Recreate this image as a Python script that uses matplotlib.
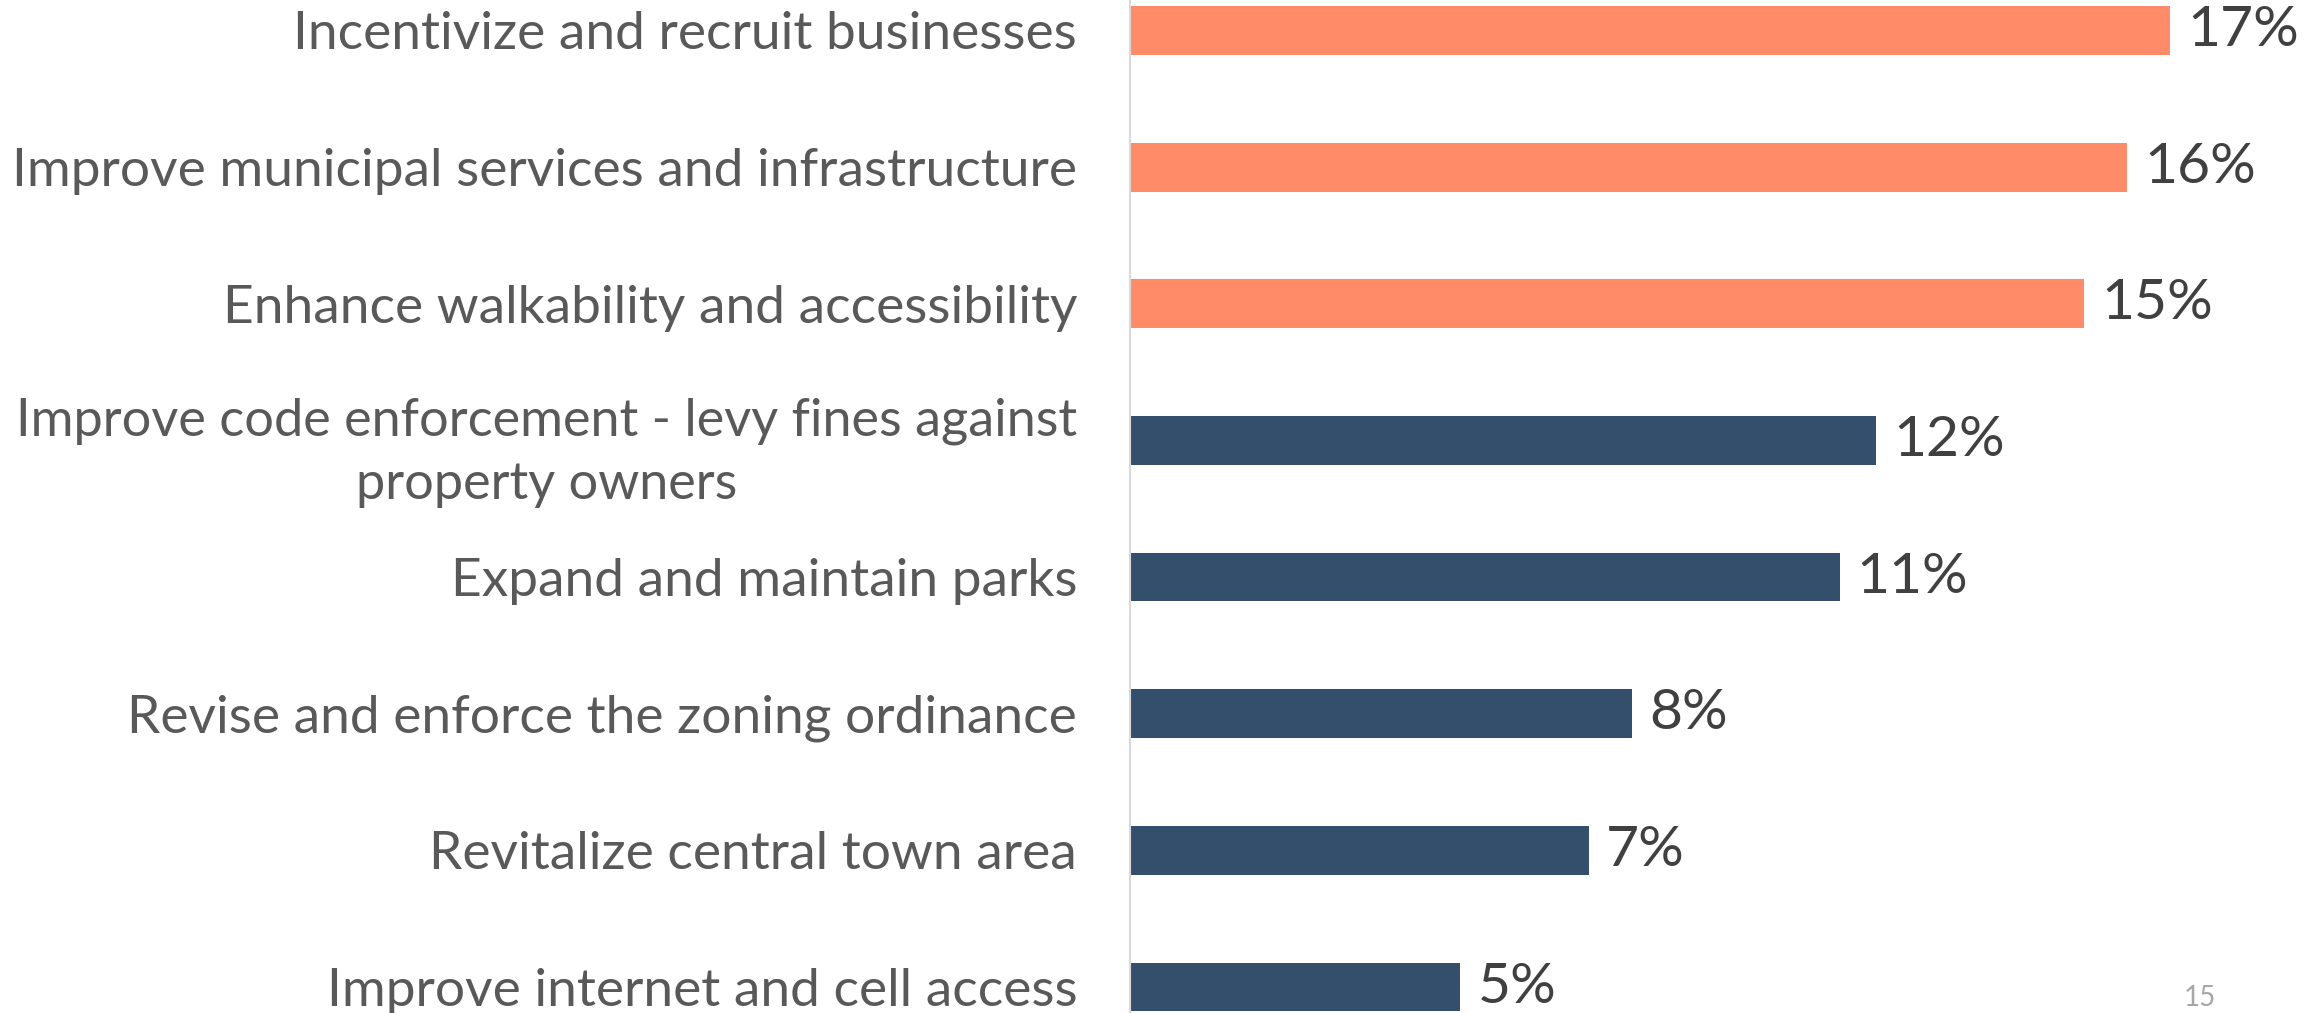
import matplotlib
matplotlib.use('Agg')
import matplotlib.pyplot as plt
from matplotlib.transforms import ScaledTranslation

plt.rcParams['font.family'] = ['Lato', 'DejaVu Sans']

categories = [
    'Incentivize and recruit businesses',
    'Improve municipal services and infrastructure',
    'Enhance walkability and accessibility',
    'Improve code enforcement - levy fines against\nproperty owners',
    'Expand and maintain parks',
    'Revise and enforce the zoning ordinance',
    'Revitalize central town area',
    'Improve internet and cell access',
]
# bar lengths as drawn, and the rounded labels printed next to them
shares = [17.0, 16.3, 15.6, 12.2, 11.6, 8.2, 7.5, 5.4]
share_labels = ['17%', '16%', '15%', '12%', '11%', '8%', '7%', '5%']
top_n = 3

orange = '#FF8B68'
navy = '#344F6B'

fig = plt.figure(figsize=(23.23, 10.13), dpi=100)
ax = fig.add_axes([1130 / 2323, 0, 1 - 1130 / 2323, 1])

colors = [orange if i < top_n else navy for i in range(len(shares))]
ypos = list(range(len(shares)))
ax.barh(ypos, shares, height=0.357, color=colors)

for y, v, lab in zip(ypos, shares, share_labels):
    ax.text(v + 0.28, y, lab, va='center', ha='left', fontsize=41, color='#404040')

ax.set_xlim(0, 19.5)
ax.set_ylim(7.19, -0.223)
ax.set_yticks(ypos)
ax.set_yticklabels(categories, fontsize=38.3, color='#595959',
                   multialignment='center', linespacing=1.42)
# the two-line label is a touch narrower and sits a bit higher in the original
two_line = ax.get_yticklabels()[3]
two_line.set_fontsize(37.6)
two_line.set_transform(two_line.get_transform() + ScaledTranslation(0, 0.08, fig.dpi_scale_trans))
ax.tick_params(axis='y', length=0, pad=38)
ax.set_xticks([])

for s in ['top', 'right', 'bottom']:
    ax.spines[s].set_visible(False)
ax.spines['left'].set_color('#D9D9D9')
ax.spines['left'].set_linewidth(1.5)

fig.text(2184 / 2323, 1 - 998 / 1013, '15', fontsize=20, color='#A6A6A6',
         ha='left', va='center')

fig.savefig('out.png', dpi=100)
